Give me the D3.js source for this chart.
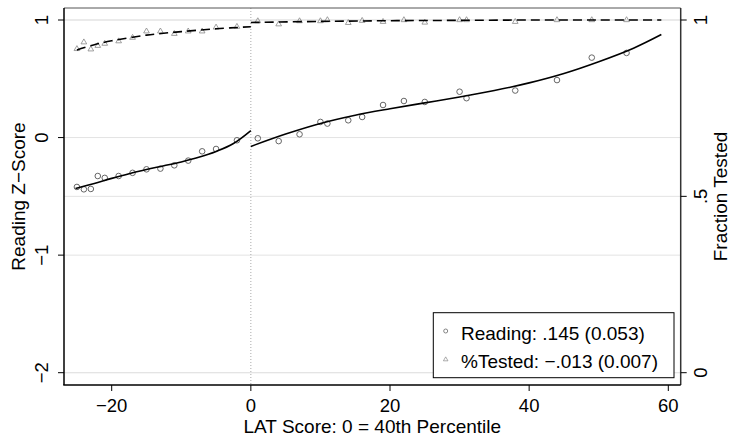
<!DOCTYPE html>
<html>
<head>
<meta charset="utf-8">
<script src="https://cdn.jsdelivr.net/npm/d3@7"></script>
<style>
  body { margin: 0; background: #fff; }
  svg { font-family: "Liberation Sans", Arial, sans-serif; }
</style>
</head>
<body>
<svg id="chart" width="731" height="443"></svg>
<script>
// punti osservati (LAT score binned)
const xLeft  = [-25, -24, -23, -22, -21, -19, -17, -15, -13, -11, -9, -7, -5, -2];
const xRight = [1, 4, 7, 10, 11, 14, 16, 19, 22, 25, 30, 31, 38, 44, 49, 54];

// Reading z-score (asse sinistro)
const readLeft  = [-0.42, -0.44, -0.437, -0.327, -0.343, -0.327, -0.30, -0.27, -0.264, -0.236, -0.196, -0.117, -0.097, -0.023];
const readRight = [-0.006, -0.03, 0.028, 0.133, 0.119, 0.147, 0.175, 0.277, 0.311, 0.303, 0.39, 0.335, 0.40, 0.489, 0.68, 0.72];

// Fraction tested (asse destro)
const testLeft  = [0.918, 0.937, 0.917, 0.927, 0.933, 0.94, 0.95, 0.968, 0.968, 0.961, 0.968, 0.968, 0.979, 0.981];
const testRight = [0.997, 0.988, 0.997, 0.997, 1.0, 0.992, 0.998, 0.995, 1.0, 0.993, 1.0, 1.0, 0.995, 1.0, 1.0, 1.0];

// curve di fit
const fitReadLeftX  = [-25.2, -22.5, -20, -17.5, -15, -12.5, -10, -7.5, -5, -2.5, 0];
const fitReadLeftY  = [-0.434, -0.39, -0.347, -0.307, -0.272, -0.24, -0.207, -0.168, -0.118, -0.05, 0.06];
const fitReadRightX = [0, 5, 10, 15, 20, 25, 30, 35, 40, 45, 50, 55, 59];
const fitReadRightY = [-0.075, 0.03, 0.12, 0.19, 0.245, 0.295, 0.345, 0.40, 0.465, 0.545, 0.645, 0.76, 0.876];
const fitTestLeftX  = [-25, -22.5, -20, -15, -10, -5, 0];
const fitTestLeftY  = [0.915, 0.93, 0.941, 0.957, 0.967, 0.975, 0.981];
const fitTestRightX = [0, 10, 20, 30, 40, 50, 59];
const fitTestRightY = [0.993, 0.996, 0.998, 0.999, 1.0, 1.0, 1.0];

// tick
const xTicks = [-20, 0, 20, 40, 60];
const yLeftTicks = [-2, -1, 0, 1];
const yRightTicks = [0, 0.5, 1];
const yRightLabels = ["0", ".5", "1"];

const legendLabels = ["Reading: .145 (0.053)", "%Tested: \u2212.013 (0.007)"];

const fmt = v => String(v).replace("-", "\u2212");

// area del grafico
const plot = { left: 64, right: 680.7, top: 8, bottom: 385 };
const tickFont = '18.5px';
const titleFont = '19px';

const svg = d3.select('#chart');

const x = d3.scaleLinear().domain([-20, 60]).range([111.7, 668.3]);
const yL = d3.scaleLinear().domain([-2, 1]).range([372.7, 20]);
const yR = d3.scaleLinear().domain([0, 1]).range([372.7, 20]);

// griglia
const grid = svg.append('g');
yLeftTicks.forEach(t => {
    grid.append('line')
        .attr('x1', plot.left).attr('x2', plot.right)
        .attr('y1', yL(t)).attr('y2', yL(t))
        .style('stroke', '#e3e3e3').style('stroke-width', 1);
});
yRightTicks.forEach(t => {
    grid.append('line')
        .attr('x1', plot.left).attr('x2', plot.right)
        .attr('y1', yR(t)).attr('y2', yR(t))
        .style('stroke', '#e3e3e3').style('stroke-width', 1);
});

// linea verticale a 0
svg.append('line')
    .attr('x1', x(0)).attr('x2', x(0))
    .attr('y1', plot.top).attr('y2', plot.bottom)
    .style('stroke', '#aaa').style('stroke-width', 1)
    .style('stroke-dasharray', '1,2');

// cornice
svg.append('line').attr('x1', plot.left).attr('x2', plot.right).attr('y1', plot.top).attr('y2', plot.top)
    .style('stroke', '#555').style('stroke-width', 1);
svg.append('line').attr('x1', plot.right).attr('x2', plot.right).attr('y1', plot.top).attr('y2', plot.bottom)
    .style('stroke', '#333').style('stroke-width', 1.5);
svg.append('line').attr('x1', plot.left).attr('x2', plot.left).attr('y1', plot.top).attr('y2', plot.bottom)
    .style('stroke', '#000').style('stroke-width', 1.5);
svg.append('line').attr('x1', plot.left - 0.75).attr('x2', plot.right).attr('y1', plot.bottom).attr('y2', plot.bottom)
    .style('stroke', '#000').style('stroke-width', 1.5);

// asse x
xTicks.forEach(t => {
    svg.append('line')
        .attr('x1', x(t)).attr('x2', x(t))
        .attr('y1', plot.bottom).attr('y2', plot.bottom + 6)
        .style('stroke', '#000').style('stroke-width', 1);
    svg.append('text')
        .attr('x', x(t)).attr('y', 411.5)
        .attr('text-anchor', 'middle')
        .style('font-size', tickFont)
        .text(fmt(t));
});
svg.append('text')
    .attr('x', 372.3).attr('y', 433)
    .attr('text-anchor', 'middle')
    .style('font-size', titleFont)
    .text('LAT Score: 0 = 40th Percentile');

// asse sinistro
yLeftTicks.forEach(t => {
    svg.append('line')
        .attr('x1', plot.left - 6).attr('x2', plot.left)
        .attr('y1', yL(t)).attr('y2', yL(t))
        .style('stroke', '#000').style('stroke-width', 1);
    svg.append('text')
        .attr('transform', `translate(48, ${yL(t)}) rotate(-90)`)
        .attr('text-anchor', 'middle')
        .style('font-size', tickFont)
        .text(fmt(t));
});
svg.append('text')
    .attr('transform', `translate(25, ${(plot.top + plot.bottom) / 2}) rotate(-90)`)
    .attr('text-anchor', 'middle')
    .style('font-size', titleFont)
    .text('Reading Z\u2212Score');

// asse destro
yRightTicks.forEach((t, i) => {
    svg.append('line')
        .attr('x1', plot.right).attr('x2', plot.right + 6)
        .attr('y1', yR(t)).attr('y2', yR(t))
        .style('stroke', '#000').style('stroke-width', 1);
    svg.append('text')
        .attr('transform', `translate(707, ${yR(t)}) rotate(-90)`)
        .attr('text-anchor', 'middle')
        .style('font-size', tickFont)
        .text(yRightLabels[i]);
});
svg.append('text')
    .attr('transform', `translate(727, ${(plot.top + plot.bottom) / 2}) rotate(-90)`)
    .attr('text-anchor', 'middle')
    .style('font-size', titleFont)
    .text('Fraction Tested');

// punti
const circles = xLeft.map((v, i) => ({ x: v, y: readLeft[i] }))
    .concat(xRight.map((v, i) => ({ x: v, y: readRight[i] })));
const triangles = xLeft.map((v, i) => ({ x: v, y: testLeft[i] }))
    .concat(xRight.map((v, i) => ({ x: v, y: testRight[i] })));

const triSym = d3.symbol().type(d3.symbolTriangle).size(14);

svg.append('g').selectAll('path')
    .data(triangles)
    .enter()
    .append('path')
    .attr('d', triSym)
    .attr('transform', d => `translate(${x(d.x)}, ${yR(d.y)})`)
    .style('fill', 'none')
    .style('stroke', '#888')
    .style('stroke-width', 0.8);

svg.append('g').selectAll('circle')
    .data(circles)
    .enter()
    .append('circle')
    .attr('cx', d => x(d.x))
    .attr('cy', d => yL(d.y))
    .attr('r', 2.8)
    .style('fill', 'none')
    .style('stroke', '#666')
    .style('stroke-width', 1);

// linee di fit
const lineL = d3.line().x(d => x(d[0])).y(d => yL(d[1])).curve(d3.curveCatmullRom);
const lineR = d3.line().x(d => x(d[0])).y(d => yR(d[1])).curve(d3.curveCatmullRom);

[[fitReadLeftX, fitReadLeftY], [fitReadRightX, fitReadRightY]].forEach(([xs, ys]) => {
    svg.append('path')
        .attr('d', lineL(xs.map((v, i) => [v, ys[i]])))
        .style('fill', 'none').style('stroke', '#000').style('stroke-width', 1.6);
});
[[fitTestLeftX, fitTestLeftY], [fitTestRightX, fitTestRightY]].forEach(([xs, ys]) => {
    svg.append('path')
        .attr('d', lineR(xs.map((v, i) => [v, ys[i]])))
        .style('fill', 'none').style('stroke', '#000').style('stroke-width', 1.6)
        .style('stroke-dasharray', '9,5');
});

// legenda
const legend = svg.append('g');
legend.append('rect')
    .attr('x', 433.3).attr('y', 312.7)
    .attr('width', 240.7).attr('height', 65)
    .style('fill', '#fff').style('stroke', '#000').style('stroke-width', 1);
legend.append('circle')
    .attr('cx', 445.7).attr('cy', 331).attr('r', 2)
    .style('fill', 'none').style('stroke', '#666').style('stroke-width', 0.8);
legend.append('path')
    .attr('d', d3.symbol().type(d3.symbolTriangle).size(9))
    .attr('transform', 'translate(445.7, 359.5)')
    .style('fill', 'none').style('stroke', '#888').style('stroke-width', 0.7);
legendLabels.forEach((label, i) => {
    legend.append('text')
        .attr('x', 461).attr('y', 339.5 + i * 28.7)
        .style('font-size', titleFont)
        .text(label);
});
</script>
</body>
</html>
